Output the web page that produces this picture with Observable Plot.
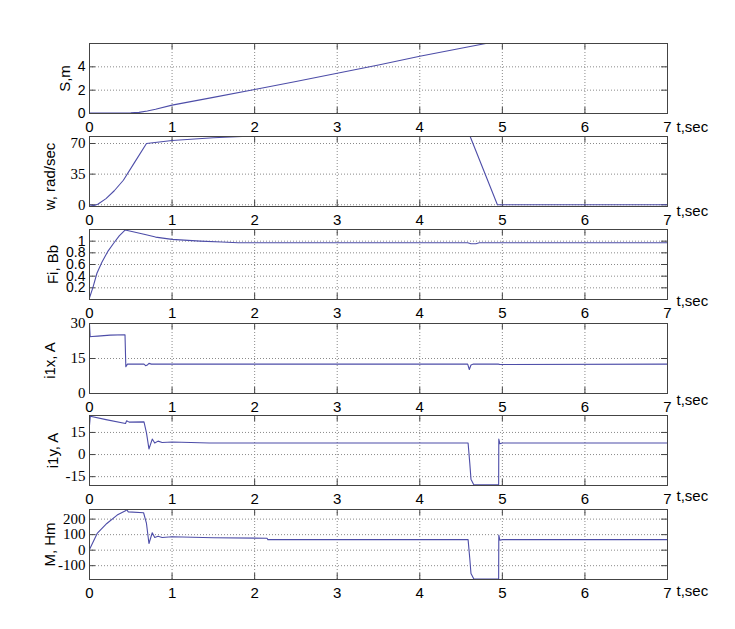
<!DOCTYPE html>
<html><head><meta charset="utf-8">
<script src="https://cdn.jsdelivr.net/npm/d3@7"></script>
<script src="https://cdn.jsdelivr.net/npm/@observablehq/plot@0.6"></script>
<style>
body{margin:0;background:#fff;}
#wrap{position:relative;width:735px;height:629px;background:#fff;overflow:hidden;}
.panel{position:absolute;left:0;}
</style></head><body><div id="wrap"></div>
<script>
// ---- data ----
const xTicks = [0, 1, 2, 3, 4, 5, 6, 7];

const tS = [0, 0.4, 0.45, 0.5, 0.6, 0.7, 0.8, 1, 1.5, 2, 2.5, 3, 3.5, 4, 4.5, 4.8, 4.9];
const S  = [0.03, 0.03, 0.04, 0.05, 0.1, 0.22, 0.36, 0.72, 1.38, 2.05, 2.75, 3.45, 4.15, 4.9, 5.6, 6.0, 6.15];

const tW = [0, 0.05, 0.1, 0.2, 0.3, 0.41, 0.55, 0.69, 1, 1.5, 1.85, 2.2, 4.4, 4.61, 4.94, 5.5, 7];
const W  = [0, -1, 0.5, 7, 16, 28, 49, 70, 73.5, 76.5, 78, 80, 80, 78, 0, 0, 0];

const tFi = [0, 0.04, 0.09, 0.15, 0.22, 0.29, 0.36, 0.43, 0.5, 0.66, 0.8, 1, 1.34, 1.6, 1.8, 4.58, 4.62, 4.68, 4.72, 7];
const Fi  = [0.03, 0.2, 0.45, 0.64, 0.82, 0.96, 1.09, 1.19, 1.17, 1.12, 1.07, 1.03, 1.0, 0.985, 0.972, 0.972, 0.955, 0.955, 0.972, 0.972];

const tI1x = [0, 0.008, 0.03, 0.1, 0.25, 0.43, 0.44, 0.46, 0.5, 0.66, 0.68, 0.7, 0.72, 0.75, 4.58, 4.6, 4.62, 4.65, 4.95, 4.97, 7];
const I1x  = [29.7, 24.3, 24.4, 24.6, 25.0, 25.2, 11.5, 12.6, 12.6, 12.6, 11.9, 12.2, 12.9, 12.6, 12.6, 10.3, 12.2, 12.6, 12.6, 12.4, 12.6];

const tI1y = [0, 0.01, 0.2, 0.436, 0.45, 0.48, 0.66, 0.69, 0.72, 0.76, 0.79, 0.83, 0.88, 1.0, 1.45, 4.585, 4.605, 4.62, 4.655, 4.955, 4.957, 4.97, 5.0, 7];
const I1y  = [20, 26, 23.7, 21.1, 22.9, 22, 22.2, 14.7, 3.8, 10.5, 7.8, 9.1, 8.2, 8.5, 7.8, 7.8, -5.5, -16.7, -20.6, -20.6, 10.5, 7.3, 7.8, 7.8];

const tM = [0, 0.093, 0.21, 0.335, 0.436, 0.45, 0.47, 0.655, 0.69, 0.72, 0.76, 0.79, 0.83, 0.88, 1.0, 1.5, 2.15, 2.16, 4.585, 4.605, 4.62, 4.655, 4.955, 4.957, 4.97, 5.0, 7];
const M  = [5, 108, 172, 226, 254, 261, 247, 241, 172, 43, 112, 82, 90, 82, 86, 80, 77, 68, 68, -50, -150, -186, -186, 97, 64, 68, 68];

const yLabels = ["S,m", "w, rad/sec", "Fi, Bb", "i1x, A", "i1y, A", "M, Hm"];
const yTicks = [[0, 2, 4], [0, 35, 70], [0.2, 0.4, 0.6, 0.8, 1], [0, 15, 30], [-15, 0, 15], [-100, 0, 100, 200]];
const yDomains = [[0, 6], [-2, 78], [0, 1.2], [0, 30], [-21, 26.5], [-189, 262]];
const series = [[tS, S], [tW, W], [tFi, Fi], [tI1x, I1x], [tI1y, I1y], [tM, M]];

// ---- layout / style (not data) ----
const serifTicks = [false, true, false, true, true, true];
const labelDx = [-24, -39, -36, -39, -36, -39];
const labelDy = [0, 5, 0, 2, 0, 0];
const tsecDy = [14, 5, 2, 7, 11, 12];
const frameTops = [43, 136.3, 229, 322.7, 415.3, 509.3];

const SANS = "'Liberation Sans', Arial, sans-serif";
const SERIF = "'Liberation Serif', 'Times New Roman', serif";
const LINE = "#4d4da8";
const AX = "#444";
const wrap = document.getElementById("wrap");

series.forEach(([t, v], i) => {
  const data = t.map((tt, k) => ({t: tt, v: v[k]}));
  const yt = yTicks[i];
  const fig = Plot.plot({
    width: 735, height: 93,
    marginTop: 2, marginBottom: 21, marginLeft: 89, marginRight: 68,
    style: {background: "none", overflow: "visible", fontFamily: SANS, color: "#000"},
    x: {domain: [0, 7]},
    y: {domain: yDomains[i]},
    marks: [
      Plot.gridX(xTicks, {stroke: "#8a8a8a", strokeOpacity: 1, strokeDasharray: "1,2"}),
      Plot.gridY(yt, {stroke: "#8a8a8a", strokeOpacity: 1, strokeDasharray: "1,2"}),
      Plot.tickX(xTicks, {x: d => d, insetBottom: 64, stroke: AX}),
      Plot.tickX(xTicks, {x: d => d, insetTop: 64, stroke: AX}),
      Plot.tickY(yt, {y: d => d, insetRight: 572, stroke: AX}),
      Plot.tickY(yt, {y: d => d, insetLeft: 572, stroke: AX}),
      Plot.line(data, {x: "t", y: "v", stroke: LINE, strokeWidth: 1.1, clip: true}),
      Plot.frame({stroke: AX}),
      Plot.axisX(xTicks, {tickSize: 0, tickPadding: 8, fontSize: 15, label: null, tickFormat: d => String(d)}),
      Plot.axisY(yt, {tickSize: 0, tickPadding: 4, label: null, tickFormat: d => String(d),
        fontSize: serifTicks[i] ? 15 : 14, fontFamily: serifTicks[i] ? SERIF : SANS}),
      Plot.text([yLabels[i]], {frameAnchor: "left", text: d => d, rotate: -90, dx: labelDx[i], dy: labelDy[i],
        textAnchor: "middle", lineAnchor: "middle", fontSize: 15, fill: "#000"}),
      Plot.text(["t,sec"], {frameAnchor: "bottom-right", text: d => d, dx: 9, dy: tsecDy[i],
        textAnchor: "start", lineAnchor: "middle", fontSize: 15, fill: "#000"})
    ]
  });
  const div = document.createElement("div");
  div.className = "panel";
  div.style.top = (frameTops[i] - 2) + "px";
  div.appendChild(fig);
  wrap.appendChild(div);
});
</script>
</body></html>
